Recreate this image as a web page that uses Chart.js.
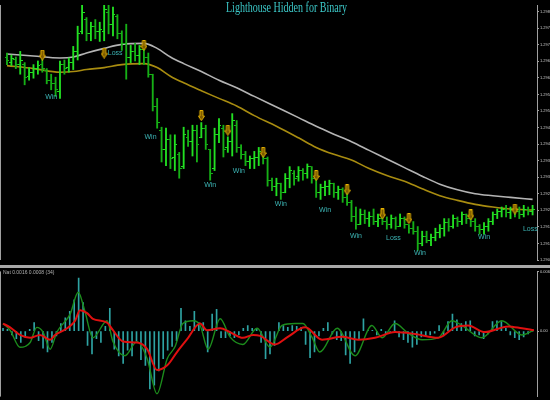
<!DOCTYPE html>
<html>
<head>
<meta charset="utf-8">
<script src="https://cdn.jsdelivr.net/npm/chart.js@4.4.1/dist/chart.umd.min.js"></script>
<style>
  body { margin: 0; background: #000; }
  #wrap { position: relative; width: 550px; height: 400px; background: #000; overflow: hidden; }
  #priceChart { position: absolute; left: 0; top: 0; }
  #sep { position: absolute; left: 0; top: 265px; width: 550px; height: 3px; background: #a8a8a8; }
  #oscChart { position: absolute; left: 0; top: 268px; }
</style>
</head>
<body>
<div id="wrap">
  <canvas id="priceChart" width="550" height="265"></canvas>
  <div id="sep"></div>
  <canvas id="oscChart" width="550" height="132"></canvas>
</div>
<script>
// chart text
const chartTitle = "Lighthouse Hidden for Binary";
const oscHeader = "Nat 0.0016 0.0008 (34)";

// price axis
const priceMin = 1.2905;
const priceMax = 1.2982;
const priceStep = 0.0005;

// price bars, one per bar index 0..119
const barOpen = [
  1.29660,1.29646,1.29654,1.29640,1.29640,1.29605,1.29617,1.29628,1.29640,1.29622,
  1.29593,1.29582,1.29558,1.29640,1.29631,1.29646,1.29680,1.29739,1.29776,1.29733,
  1.29756,1.29739,1.29739,1.29797,1.29762,1.29785,1.29733,1.29704,1.29660,1.29680,
  1.29669,1.29686,1.29660,1.29611,1.29515,1.29442,1.29384,1.29413,1.29361,1.29369,
  1.29332,1.29419,1.29407,1.29442,1.29419,1.29448,1.29384,1.29326,1.29428,1.29448,
  1.29390,1.29407,1.29457,1.29390,1.29369,1.29346,1.29355,1.29361,1.29369,1.29355,
  1.29291,1.29273,1.29282,1.29253,1.29297,1.29311,1.29303,1.29320,1.29311,1.29332,
  1.29297,1.29253,1.29268,1.29273,1.29282,1.29253,1.29262,1.29239,1.29224,1.29180,
  1.29157,1.29186,1.29175,1.29180,1.29166,1.29175,1.29166,1.29157,1.29175,1.29151,
  1.29175,1.29157,1.29146,1.29137,1.29099,1.29122,1.29108,1.29117,1.29134,1.29146,
  1.29163,1.29151,1.29175,1.29166,1.29186,1.29175,1.29166,1.29151,1.29143,1.29151,
  1.29166,1.29186,1.29195,1.29201,1.29192,1.29204,1.29195,1.29186,1.29204,1.29195
];
const barHigh = [
  1.29675,1.29669,1.29663,1.29680,1.29646,1.29631,1.29640,1.29651,1.29657,1.29628,
  1.29611,1.29602,1.29651,1.29654,1.29660,1.29695,1.29756,1.29835,1.29782,1.29768,
  1.29776,1.29768,1.29835,1.29820,1.29814,1.29791,1.29742,1.29762,1.29698,1.29704,
  1.29698,1.29689,1.29675,1.29611,1.29538,1.29451,1.29448,1.29428,1.29428,1.29375,
  1.29451,1.29442,1.29457,1.29457,1.29465,1.29457,1.29384,1.29448,1.29477,1.29457,
  1.29422,1.29492,1.29471,1.29398,1.29378,1.29364,1.29378,1.29390,1.29384,1.29361,
  1.29297,1.29297,1.29282,1.29311,1.29332,1.29320,1.29332,1.29326,1.29340,1.29332,
  1.29297,1.29279,1.29288,1.29291,1.29282,1.29273,1.29268,1.29253,1.29230,1.29210,
  1.29204,1.29201,1.29195,1.29204,1.29189,1.29186,1.29180,1.29186,1.29180,1.29189,
  1.29180,1.29157,1.29166,1.29151,1.29137,1.29137,1.29128,1.29146,1.29157,1.29175,
  1.29175,1.29186,1.29180,1.29195,1.29189,1.29180,1.29175,1.29157,1.29163,1.29175,
  1.29195,1.29204,1.29210,1.29215,1.29210,1.29215,1.29210,1.29215,1.29210,1.29215
];
const barLow = [
  1.29640,1.29637,1.29628,1.29611,1.29579,1.29593,1.29599,1.29611,1.29617,1.29582,
  1.29564,1.29544,1.29538,1.29611,1.29617,1.29625,1.29654,1.29733,1.29712,1.29712,
  1.29718,1.29710,1.29712,1.29733,1.29727,1.29718,1.29683,1.29596,1.29646,1.29651,
  1.29640,1.29640,1.29602,1.29500,1.29448,1.29346,1.29335,1.29326,1.29320,1.29297,
  1.29326,1.29393,1.29364,1.29346,1.29419,1.29384,1.29291,1.29320,1.29404,1.29361,
  1.29375,1.29364,1.29375,1.29355,1.29335,1.29326,1.29326,1.29335,1.29340,1.29273,
  1.29259,1.29244,1.29233,1.29253,1.29268,1.29276,1.29288,1.29291,1.29297,1.29282,
  1.29239,1.29233,1.29244,1.29247,1.29239,1.29233,1.29224,1.29215,1.29166,1.29143,
  1.29157,1.29160,1.29151,1.29157,1.29151,1.29157,1.29143,1.29146,1.29143,1.29151,
  1.29146,1.29131,1.29128,1.29079,1.29093,1.29102,1.29093,1.29108,1.29117,1.29122,
  1.29137,1.29146,1.29151,1.29157,1.29160,1.29151,1.29137,1.29128,1.29128,1.29137,
  1.29157,1.29175,1.29180,1.29180,1.29175,1.29180,1.29175,1.29180,1.29186,1.29186
];
const barClose = [
  1.29651,1.29657,1.29640,1.29651,1.29602,1.29617,1.29628,1.29637,1.29628,1.29593,
  1.29582,1.29564,1.29640,1.29628,1.29646,1.29680,1.29733,1.29797,1.29733,1.29756,
  1.29739,1.29747,1.29805,1.29762,1.29791,1.29733,1.29704,1.29660,1.29680,1.29669,
  1.29686,1.29660,1.29611,1.29515,1.29465,1.29384,1.29413,1.29355,1.29398,1.29326,
  1.29428,1.29407,1.29442,1.29398,1.29448,1.29398,1.29311,1.29428,1.29457,1.29384,
  1.29407,1.29471,1.29390,1.29369,1.29346,1.29355,1.29361,1.29378,1.29355,1.29291,
  1.29273,1.29282,1.29253,1.29297,1.29320,1.29297,1.29320,1.29311,1.29332,1.29297,
  1.29253,1.29268,1.29273,1.29282,1.29253,1.29262,1.29239,1.29224,1.29180,1.29157,
  1.29186,1.29175,1.29180,1.29166,1.29175,1.29166,1.29157,1.29175,1.29151,1.29175,
  1.29157,1.29146,1.29137,1.29099,1.29122,1.29108,1.29117,1.29134,1.29146,1.29163,
  1.29151,1.29175,1.29166,1.29186,1.29175,1.29166,1.29151,1.29143,1.29151,1.29166,
  1.29186,1.29195,1.29201,1.29192,1.29204,1.29195,1.29186,1.29204,1.29195,1.29204
];

// moving averages (read at a subset of bars)
const maIdx = [0,6,12,15,18,22,26,31,34,37,40,44,48,52,56,61,66,70,74,78,82,86,90,94,98,102,106,110,114,119];
const slowMA = [1.29672,1.29666,1.29660,1.29663,1.29675,1.29689,1.29701,1.29704,1.29689,1.29663,
  1.29643,1.29619,1.29593,1.29570,1.29544,1.29512,1.29480,1.29454,1.29430,1.29407,
  1.29381,1.29355,1.29329,1.29303,1.29279,1.29262,1.29250,1.29244,1.29239,1.29233];
const fastMA = [1.29637,1.29628,1.29617,1.29619,1.29625,1.29631,1.29640,1.29643,1.29631,1.29605,
  1.29585,1.29561,1.29538,1.29515,1.29486,1.29454,1.29419,1.29390,1.29369,1.29352,
  1.29326,1.29305,1.29288,1.29265,1.29244,1.29230,1.29218,1.29210,1.29204,1.29201];

// signal arrows
const signalIdx = [8,22,31,44,50,58,70,77,85,91,105,115];
const signalPrice = [1.29669,1.29675,1.29698,1.29486,1.29442,1.29375,1.29305,1.29262,1.29189,1.29175,1.29186,1.29204];

// trade results
const resultIdx = [10,24.5,32.5,46,52.5,62,72,79,87.5,93.5,108,118.5];
const resultPrice = [1.29541,1.29675,1.29422,1.29276,1.29320,1.29218,1.29201,1.29122,1.29117,1.29070,1.29119,1.29143];
const resultText = ["Win","Loss","Win","Win","Win","Win","Win","Win","Loss","Win","Win","Loss"];

// oscillator panel
const oscMin = -6.9;
const oscMax = 6.3;
const oscHist = [
  0.3,0.2,-0.4,-0.8,-1.2,-0.6,0.2,0.9,-1.0,-1.8,
  -2.2,-1.2,-0.5,0.8,1.4,2.1,3.3,5.6,3.0,-1.5,
  -2.4,-0.8,-1.2,0.5,2.4,-1.9,-2.6,-3.4,-2.0,-2.6,
  -1.0,-3.0,-3.6,-6.1,-5.7,-4.2,-2.9,-2.0,-1.6,-1.0,
  2.4,1.1,0.5,2.1,0.9,0.9,-2.2,1.8,2.3,-0.7,
  -0.7,-0.5,-0.7,-0.4,0.3,0.6,0.3,0.3,-1.2,-2.9,
  -2.4,-1.5,0.9,0.6,0.4,0.6,0.5,0.4,-1.4,-2.8,
  -2.2,-0.5,0.3,0.9,-0.3,-0.9,-1.0,-2.5,-3.4,-2.2,
  -0.9,1.3,0.1,0.1,-0.4,0.2,-0.3,-0.1,1.1,-0.6,
  -0.9,-1.2,-1.7,-1.4,-0.6,-0.5,-0.4,-0.2,0.6,-0.5,
  1.0,1.8,1.2,0.8,1.0,1.1,-0.5,-0.4,-0.8,-0.3,
  1.0,1.1,1.0,0.3,-0.4,-0.7,-0.9,-0.6,-0.3,0.0
];
const greenIdx = [0,1.6,3.8,6.1,7.6,9,10.6,12.1,15.1,16.9,18.4,20.2,23.4,24.7,27.4,30.1,32.4,34.6,36.9,38.7,
  40.4,42.7,44.3,46.1,48.8,51,53.9,57.1,60,62.7,65.6,67.4,69.4,71.2,75.1,79.1,82.9,85.2,88.1,91,
  94.2,97.8,100.9,103.1,107.6,112.1,116.6,119.3];
const greenVal = [0.8,0.1,-1.7,-1.2,0.4,-0.1,-1.9,-0.1,1.8,4.1,2.1,-0.7,1.1,-1.1,-2.6,-1.1,-2.9,-6.6,-2.9,-1.6,
  0.8,1.1,0.6,-1.9,1.3,-0.6,-1.4,0.3,-1.7,0.6,0.8,0.8,-0.6,-2.2,0.3,-2.6,0.6,-0.7,0.8,-0.2,
  -0.9,-0.7,1.1,0.6,-0.7,1.1,-0.4,0.1];
const redIdx = [0,1.6,3.8,6.1,8.3,10.6,11.7,14.4,16.2,17.3,18.9,20.2,23.4,24.7,27,30.1,32.4,34.6,36.9,39.1,
  41.3,44.3,45.8,48.8,51,53.9,56.2,57.8,61.1,64,67.9,71.7,76.2,79.8,83.6,88.1,92.6,97.8,101.6,104.5,
  108.3,113.5,116.6,119.3];
const redVal = [0.8,0.4,-0.4,-0.7,-0.4,-0.9,-0.4,0.3,1.1,2.2,1.9,1.3,0.9,0.1,-1.1,-1.2,-1.9,-4.1,-3.6,-2.2,
  -0.9,0.8,0.1,0.3,-0.1,-0.7,-0.4,-0.5,-1.4,-0.6,0.4,-0.9,-0.6,-0.9,-0.7,-0.1,-0.3,-0.7,0.4,0.6,
  -0.1,0.5,0.3,0.1];

Chart.defaults.font.family = "Liberation Sans";
Chart.defaults.animation = false;

const upColor = "#22e022";
const downColor = "#16b016";
const isUp = barClose.map((c, i) => c >= barOpen[i]);
const barColors = isUp.map(u => u ? upColor : downColor);

// small open/close tick marks
function tickImg(color, side) {
    const c = document.createElement("canvas");
    c.width = 5; c.height = 1;
    const g = c.getContext("2d");
    g.fillStyle = color;
    if (side === "open") g.fillRect(0, 0, 2, 1); else g.fillRect(3, 0, 2, 1);
    return c;
}
const openUp = tickImg(upColor, "open"), openDn = tickImg(downColor, "open");
const closeUp = tickImg(upColor, "close"), closeDn = tickImg(downColor, "close");

// hollow down arrow used for signals
function arrowImg() {
    const c = document.createElement("canvas");
    c.width = 7; c.height = 11;
    const g = c.getContext("2d");
    g.beginPath();
    g.moveTo(2, 0.5); g.lineTo(5, 0.5); g.lineTo(5, 6); g.lineTo(6.5, 6);
    g.lineTo(3.5, 10.5); g.lineTo(0.5, 6); g.lineTo(2, 6); g.closePath();
    g.fillStyle = "#7a5800";
    g.fill();
    g.strokeStyle = "#e8b400";
    g.lineWidth = 1;
    g.stroke();
    return c;
}
const arrow = arrowImg();

// bars sit on a plain linear axis, no category offset
function xScale() {
    return { type: "linear", min: -0.45, max: 120, offset: false, display: false };
}

function rightAxis(min, max) {
    return {
        type: "linear", position: "right", min: min, max: max,
        border: { color: "#a0a0a0", width: 1 },
        grid: { drawOnChartArea: false, color: "#a0a0a0", tickLength: 2 },
        ticks: { color: "#c8c8c8", font: { size: 4 }, padding: 1 },
        afterFit: s => { s.width = 13; }
    };
}

// left frame line
const frame = {
    id: "frame",
    afterDraw(chart) {
        const { ctx, chartArea } = chart;
        ctx.save();
        ctx.strokeStyle = "#a0a0a0";
        ctx.lineWidth = 1;
        ctx.beginPath();
        ctx.moveTo(0.5, chartArea.top);
        ctx.lineTo(0.5, chartArea.bottom);
        ctx.stroke();
        ctx.restore();
    }
};

// Win/Loss labels and the title
const priceText = {
    id: "priceText",
    afterDatasetsDraw(chart) {
        const { ctx, scales: { x, y } } = chart;
        ctx.save();
        ctx.font = "7px 'Liberation Sans'";
        ctx.fillStyle = "#3cb4b4";
        ctx.textAlign = "center";
        ctx.textBaseline = "middle";
        resultIdx.forEach((v, i) => {
            ctx.fillText(resultText[i], x.getPixelForValue(v), y.getPixelForValue(resultPrice[i]));
        });
        ctx.font = "14px 'Liberation Serif'";
        ctx.fillStyle = "#3cc8c8";
        const w = ctx.measureText(chartTitle).width;
        ctx.translate(286.5, 8);
        ctx.scale(121 / w, 1);
        ctx.fillText(chartTitle, 0, 0);
        ctx.restore();
    }
};

const priceAxis = rightAxis(priceMin, priceMax);
priceAxis.ticks.stepSize = priceStep;
priceAxis.ticks.includeBounds = false;
priceAxis.ticks.callback = v => v.toFixed(4);

new Chart(document.getElementById("priceChart"), {
    data: {
        datasets: [
            {
                type: "line", order: 10,
                data: maIdx.map((x, i) => ({ x: x, y: slowMA[i] })),
                borderColor: "#b4b4b4", borderWidth: 1.6, pointRadius: 0,
                cubicInterpolationMode: "monotone"
            },
            {
                type: "line", order: 9,
                data: maIdx.map((x, i) => ({ x: x, y: fastMA[i] })),
                borderColor: "#a88c10", borderWidth: 1.6, pointRadius: 0,
                cubicInterpolationMode: "monotone"
            },
            {
                type: "bar", order: 5,
                data: barHigh.map((h, i) => ({ x: i, y: [barLow[i], h] })),
                backgroundColor: barColors, barThickness: 1.2, grouped: false
            },
            {
                type: "scatter", order: 4,
                data: barOpen.map((o, i) => ({ x: i, y: o })),
                pointStyle: c => isUp[c.dataIndex] ? openUp : openDn
            },
            {
                type: "scatter", order: 4,
                data: barClose.map((o, i) => ({ x: i, y: o })),
                pointStyle: c => isUp[c.dataIndex] ? closeUp : closeDn
            },
            {
                type: "scatter", order: 1,
                data: signalIdx.map((x, i) => ({ x: x, y: signalPrice[i] })),
                pointStyle: arrow
            }
        ]
    },
    options: {
        responsive: false,
        devicePixelRatio: 1,
        events: [],
        layout: { padding: { left: 1, top: 0, bottom: 0, right: 0 } },
        plugins: { legend: { display: false }, tooltip: { enabled: false } },
        scales: { x: xScale(), y: priceAxis }
    },
    plugins: [frame, priceText]
});

// header of the lower panel
const oscText = {
    id: "oscText",
    afterDraw(chart) {
        const { ctx } = chart;
        ctx.save();
        ctx.font = "5px 'Liberation Sans'";
        ctx.fillStyle = "#b0b0b0";
        ctx.textBaseline = "middle";
        ctx.fillText(oscHeader, 3, 5);
        ctx.restore();
    }
};

const oscAxis = rightAxis(oscMin, oscMax);
oscAxis.afterBuildTicks = s => { s.ticks = [{ value: oscMax }, { value: 0 }]; };
oscAxis.ticks.callback = v => v === 0 ? "0.00" : (v / 1000).toFixed(4);

new Chart(document.getElementById("oscChart"), {
    data: {
        datasets: [
            {
                type: "line", order: 2,
                data: greenIdx.map((x, i) => ({ x: x, y: greenVal[i] })),
                borderColor: "#1c8c1c", borderWidth: 1.4, pointRadius: 0,
                cubicInterpolationMode: "monotone"
            },
            {
                type: "line", order: 1,
                data: redIdx.map((x, i) => ({ x: x, y: redVal[i] })),
                borderColor: "#e01010", borderWidth: 2, pointRadius: 0,
                cubicInterpolationMode: "monotone"
            },
            {
                type: "bar", order: 3,
                data: oscHist.map((v, i) => ({ x: i, y: v })),
                backgroundColor: "#2ea3a3", barThickness: 1, grouped: false
            }
        ]
    },
    options: {
        responsive: false,
        devicePixelRatio: 1,
        events: [],
        layout: { padding: { left: 1, top: 0, bottom: 0, right: 0 } },
        plugins: { legend: { display: false }, tooltip: { enabled: false } },
        scales: { x: xScale(), y: oscAxis }
    },
    plugins: [frame, oscText]
});
</script>
</body>
</html>
